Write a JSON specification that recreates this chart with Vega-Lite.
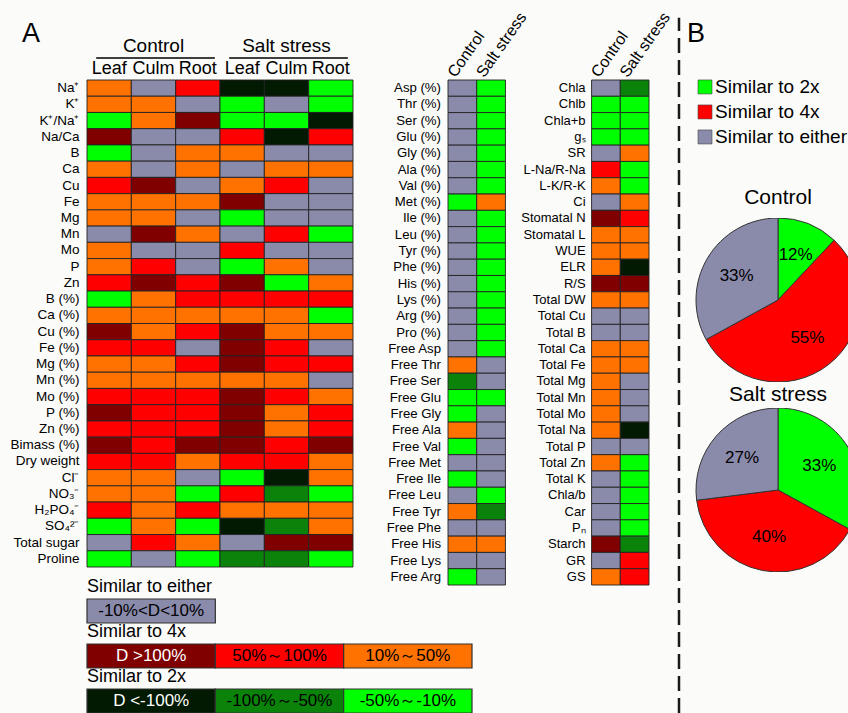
{
"$schema": "https://vega.github.io/schema/vega-lite/v6.json",
"background": "#fbfbf9",
"padding": {"left": 9, "top": 0, "right": 0, "bottom": 0},
"config": {"view": {"stroke": null}, "font": "Liberation Sans", "text": {"color": "black"}},
"datasets": {
"A": [
{"t":"Na⁺","C-Leaf":"R1","C-Culm":"E","C-Root":"R2","S-Leaf":"G3","S-Culm":"G3","S-Root":"G1"},
{"t":"K⁺","C-Leaf":"R1","C-Culm":"R1","C-Root":"E","S-Leaf":"G1","S-Culm":"E","S-Root":"G1"},
{"t":"K⁺/Na⁺","C-Leaf":"G1","C-Culm":"R1","C-Root":"R3","S-Leaf":"G1","S-Culm":"G1","S-Root":"G3"},
{"t":"Na/Ca","C-Leaf":"R3","C-Culm":"E","C-Root":"E","S-Leaf":"R2","S-Culm":"G3","S-Root":"R2"},
{"t":"B","C-Leaf":"G1","C-Culm":"E","C-Root":"R1","S-Leaf":"R1","S-Culm":"E","S-Root":"E"},
{"t":"Ca","C-Leaf":"R1","C-Culm":"E","C-Root":"R1","S-Leaf":"E","S-Culm":"R1","S-Root":"R1"},
{"t":"Cu","C-Leaf":"R2","C-Culm":"R3","C-Root":"E","S-Leaf":"R1","S-Culm":"R2","S-Root":"E"},
{"t":"Fe","C-Leaf":"R1","C-Culm":"R1","C-Root":"R1","S-Leaf":"R3","S-Culm":"E","S-Root":"E"},
{"t":"Mg","C-Leaf":"R1","C-Culm":"R1","C-Root":"E","S-Leaf":"G1","S-Culm":"E","S-Root":"E"},
{"t":"Mn","C-Leaf":"E","C-Culm":"R3","C-Root":"R1","S-Leaf":"E","S-Culm":"R2","S-Root":"G1"},
{"t":"Mo","C-Leaf":"R1","C-Culm":"E","C-Root":"E","S-Leaf":"R2","S-Culm":"E","S-Root":"E"},
{"t":"P","C-Leaf":"R1","C-Culm":"R2","C-Root":"E","S-Leaf":"G1","S-Culm":"R1","S-Root":"E"},
{"t":"Zn","C-Leaf":"R2","C-Culm":"R3","C-Root":"R2","S-Leaf":"R3","S-Culm":"G1","S-Root":"R1"},
{"t":"B (%)","C-Leaf":"G1","C-Culm":"R1","C-Root":"R2","S-Leaf":"R2","S-Culm":"R2","S-Root":"R2"},
{"t":"Ca (%)","C-Leaf":"R1","C-Culm":"R1","C-Root":"R1","S-Leaf":"R1","S-Culm":"R1","S-Root":"G1"},
{"t":"Cu (%)","C-Leaf":"R3","C-Culm":"R1","C-Root":"R2","S-Leaf":"R3","S-Culm":"R1","S-Root":"R1"},
{"t":"Fe (%)","C-Leaf":"R2","C-Culm":"R2","C-Root":"E","S-Leaf":"R3","S-Culm":"R2","S-Root":"E"},
{"t":"Mg (%)","C-Leaf":"R1","C-Culm":"R1","C-Root":"R2","S-Leaf":"R3","S-Culm":"R2","S-Root":"R2"},
{"t":"Mn (%)","C-Leaf":"R1","C-Culm":"R1","C-Root":"R1","S-Leaf":"R1","S-Culm":"R1","S-Root":"E"},
{"t":"Mo (%)","C-Leaf":"R2","C-Culm":"R2","C-Root":"R2","S-Leaf":"R3","S-Culm":"R2","S-Root":"R1"},
{"t":"P (%)","C-Leaf":"R3","C-Culm":"R2","C-Root":"R2","S-Leaf":"R3","S-Culm":"R1","S-Root":"R2"},
{"t":"Zn (%)","C-Leaf":"R2","C-Culm":"R2","C-Root":"R2","S-Leaf":"R3","S-Culm":"R1","S-Root":"R2"},
{"t":"Bimass (%)","C-Leaf":"R3","C-Culm":"R2","C-Root":"R3","S-Leaf":"R3","S-Culm":"R2","S-Root":"R3"},
{"t":"Dry weight","C-Leaf":"R2","C-Culm":"R2","C-Root":"R1","S-Leaf":"R2","S-Culm":"R2","S-Root":"R1"},
{"t":"Cl⁻","C-Leaf":"R1","C-Culm":"R1","C-Root":"E","S-Leaf":"G1","S-Culm":"G3","S-Root":"R1"},
{"t":"NO₃⁻","C-Leaf":"R1","C-Culm":"R1","C-Root":"G1","S-Leaf":"R2","S-Culm":"G2","S-Root":"G1"},
{"t":"H₂PO₄⁻","C-Leaf":"R2","C-Culm":"R1","C-Root":"R2","S-Leaf":"R1","S-Culm":"R1","S-Root":"R1"},
{"t":"SO₄²⁻","C-Leaf":"G1","C-Culm":"R1","C-Root":"G1","S-Leaf":"G3","S-Culm":"G2","S-Root":"R1"},
{"t":"Total sugar","C-Leaf":"E","C-Culm":"R2","C-Root":"R1","S-Leaf":"E","S-Culm":"R3","S-Root":"R3"},
{"t":"Proline","C-Leaf":"G1","C-Culm":"E","C-Root":"G1","S-Leaf":"G2","S-Culm":"G2","S-Root":"G1"}
],
"MR": [
{"r":1,"t":"Asp (%)","M-Control":"E","M-Salt stress":"G1"},
{"r":2,"t":"Thr (%)","M-Control":"E","M-Salt stress":"G1"},
{"r":3,"t":"Ser (%)","M-Control":"E","M-Salt stress":"G1"},
{"r":4,"t":"Glu (%)","M-Control":"E","M-Salt stress":"G1"},
{"r":5,"t":"Gly (%)","M-Control":"E","M-Salt stress":"G1"},
{"r":6,"t":"Ala (%)","M-Control":"E","M-Salt stress":"G1"},
{"r":7,"t":"Val (%)","M-Control":"E","M-Salt stress":"G1"},
{"r":8,"t":"Met (%)","M-Control":"G1","M-Salt stress":"R1"},
{"r":9,"t":"Ile (%)","M-Control":"E","M-Salt stress":"G1"},
{"r":10,"t":"Leu (%)","M-Control":"E","M-Salt stress":"G1"},
{"r":11,"t":"Tyr (%)","M-Control":"E","M-Salt stress":"G1"},
{"r":12,"t":"Phe (%)","M-Control":"E","M-Salt stress":"G1"},
{"r":13,"t":"His (%)","M-Control":"E","M-Salt stress":"G1"},
{"r":14,"t":"Lys (%)","M-Control":"E","M-Salt stress":"G1"},
{"r":15,"t":"Arg (%)","M-Control":"E","M-Salt stress":"G1"},
{"r":16,"t":"Pro (%)","M-Control":"E","M-Salt stress":"G1"},
{"r":17,"t":"Free Asp","M-Control":"E","M-Salt stress":"G1"},
{"r":18,"t":"Free Thr","M-Control":"R1","M-Salt stress":"E"},
{"r":19,"t":"Free Ser","M-Control":"G2","M-Salt stress":"E"},
{"r":20,"t":"Free Glu","M-Control":"G1","M-Salt stress":"G1"},
{"r":21,"t":"Free Gly","M-Control":"G1","M-Salt stress":"E"},
{"r":22,"t":"Free Ala","M-Control":"R1","M-Salt stress":"E"},
{"r":23,"t":"Free Val","M-Control":"G1","M-Salt stress":"E"},
{"r":24,"t":"Free Met","M-Control":"E","M-Salt stress":"E"},
{"r":25,"t":"Free Ile","M-Control":"G1","M-Salt stress":"E"},
{"r":26,"t":"Free Leu","M-Control":"E","M-Salt stress":"G1"},
{"r":27,"t":"Free Tyr","M-Control":"R1","M-Salt stress":"G2"},
{"r":28,"t":"Free Phe","M-Control":"E","M-Salt stress":"E"},
{"r":29,"t":"Free His","M-Control":"R1","M-Salt stress":"R1"},
{"r":30,"t":"Free Lys","M-Control":"E","M-Salt stress":"E"},
{"r":31,"t":"Free Arg","M-Control":"G1","M-Salt stress":"E"},
{"r":1,"t":"Chla","R-Control":"E","R-Salt stress":"G2"},
{"r":2,"t":"Chlb","R-Control":"G1","R-Salt stress":"G1"},
{"r":3,"t":"Chla+b","R-Control":"G1","R-Salt stress":"G1"},
{"r":4,"t":"gₛ","R-Control":"G1","R-Salt stress":"G1"},
{"r":5,"t":"SR","R-Control":"E","R-Salt stress":"R1"},
{"r":6,"t":"L-Na/R-Na","R-Control":"R2","R-Salt stress":"G1"},
{"r":7,"t":"L-K/R-K","R-Control":"R1","R-Salt stress":"G1"},
{"r":8,"t":"Ci","R-Control":"E","R-Salt stress":"R1"},
{"r":9,"t":"Stomatal N","R-Control":"R3","R-Salt stress":"R2"},
{"r":10,"t":"Stomatal L","R-Control":"R1","R-Salt stress":"R1"},
{"r":11,"t":"WUE","R-Control":"R1","R-Salt stress":"R1"},
{"r":12,"t":"ELR","R-Control":"R1","R-Salt stress":"G3"},
{"r":13,"t":"R/S","R-Control":"R3","R-Salt stress":"R3"},
{"r":14,"t":"Total DW","R-Control":"R1","R-Salt stress":"R1"},
{"r":15,"t":"Total Cu","R-Control":"E","R-Salt stress":"E"},
{"r":16,"t":"Total B","R-Control":"E","R-Salt stress":"E"},
{"r":17,"t":"Total Ca","R-Control":"R1","R-Salt stress":"R1"},
{"r":18,"t":"Total Fe","R-Control":"R1","R-Salt stress":"R1"},
{"r":19,"t":"Total Mg","R-Control":"R1","R-Salt stress":"E"},
{"r":20,"t":"Total Mn","R-Control":"R1","R-Salt stress":"E"},
{"r":21,"t":"Total Mo","R-Control":"R1","R-Salt stress":"E"},
{"r":22,"t":"Total Na","R-Control":"R1","R-Salt stress":"G3"},
{"r":23,"t":"Total P","R-Control":"E","R-Salt stress":"E"},
{"r":24,"t":"Total Zn","R-Control":"R1","R-Salt stress":"G1"},
{"r":25,"t":"Total K","R-Control":"E","R-Salt stress":"G1"},
{"r":26,"t":"Chla/b","R-Control":"E","R-Salt stress":"G1"},
{"r":27,"t":"Car","R-Control":"E","R-Salt stress":"G1"},
{"r":28,"t":"Pₙ","R-Control":"E","R-Salt stress":"G1"},
{"r":29,"t":"Starch","R-Control":"R3","R-Salt stress":"G2"},
{"r":30,"t":"GR","R-Control":"E","R-Salt stress":"R2"},
{"r":31,"t":"GS","R-Control":"R1","R-Salt stress":"R2"}
]
},
"spacing": 0,
"hconcat": [
{
"spacing": 578,
"bounds": "flush",
"vconcat": [
{"spacing": 0, "hconcat": [
{"spacing": 0, "bounds": "flush", "vconcat": [
{"width": 266, "height": 80,
 "layer": [
  {"data": {"values": [{"t": "A"}]},
   "mark": {"type": "text", "fontSize": 27, "baseline": "middle", "align": "center", "xOffset": -189},
   "encoding": {"text": {"field": "t"}, "y": {"datum": 0.575, "type": "quantitative", "scale": {"domain": [0, 1]}, "axis": null}}},
  {"data": {"values": [{"g": "Control", "m": "C-Culm", "a": "C-Leaf", "b": "C-Root"}, {"g": "Salt stress", "m": "S-Culm", "a": "S-Leaf", "b": "S-Root"}]},
   "layer": [
    {"mark": {"type": "text", "fontSize": 19, "baseline": "middle"},
     "encoding": {"x": {"field": "m", "type": "nominal", "scale": {"domain": ["C-Leaf","C-Culm","C-Root","S-Leaf","S-Culm","S-Root"], "padding": 0}, "axis": null},
                  "y": {"datum": 0.425, "type": "quantitative", "scale": {"domain": [0, 1]}},
                  "text": {"field": "g"}}},
    {"mark": {"type": "rule", "strokeWidth": 1.5, "color": "black", "xOffset": -13, "x2Offset": 17},
     "encoding": {"x": {"field": "a", "type": "nominal", "scale": {"domain": ["C-Leaf","C-Culm","C-Root","S-Leaf","S-Culm","S-Root"], "padding": 0}},
                  "x2": {"field": "b"},
                  "y": {"datum": 0.275, "type": "quantitative", "scale": {"domain": [0, 1]}}}}
   ]}
 ]},
{"width": 266, "height": 487,
 "data": {"name": "A"},
 "transform": [{"fold": ["C-Leaf","C-Culm","C-Root","S-Leaf","S-Culm","S-Root"], "as": ["col", "k"]}],
 "mark": {"type": "rect", "stroke": "#222", "strokeWidth": 0.9},
 "encoding": {
  "x": {"field": "col", "type": "nominal", "scale": {"domain": ["C-Leaf","C-Culm","C-Root","S-Leaf","S-Culm","S-Root"], "padding": 0},
        "axis": {"orient": "top", "labelExpr": "substring(datum.label, 2)", "labelFontSize": 18, "labelAngle": 0, "ticks": false, "domain": false, "labelPadding": 3, "title": null, "labelColor": "black", "labelOverlap": false}},
  "y": {"field": "t", "type": "nominal", "sort": null, "scale": {"padding": 0},
        "axis": {"ticks": false, "domain": false, "labelPadding": 8, "labelFontSize": 13.5, "title": null, "labelColor": "black", "labelOverlap": false}},
  "color": {"field": "k", "type": "nominal", "scale": {"domain": ["E","R3","R2","R1","G3","G2","G1"], "range": ["#8a8aab","#800000","#ff0000","#ff7200","#021902","#0b830b","#00ff00"]}, "legend": null}
 }}
]},
{"width": 32, "height": 1, "data": {"values": []}, "mark": "rect", "encoding": {}},
{"spacing": 0, "bounds": "flush", "vconcat": [
{"width": 229, "height": 80, "data": {"values": []}, "mark": "rect", "encoding": {}},
{"width": 201, "height": 505,
 "data": {"name": "MR"},
 "transform": [{"fold": ["M-Control","M-Salt stress","R-Control","R-Salt stress"], "as": ["col", "k"]}, {"filter": "isValid(datum.k)"}],
 "encoding": {"y": {"field": "r", "type": "ordinal", "scale": {"padding": 0}, "axis": null}},
 "layer": [
  {"mark": {"type": "rect", "stroke": "#222", "strokeWidth": 0.9},
   "encoding": {
    "x": {"field": "col", "type": "nominal", "scale": {"domain": ["M-Control","M-Salt stress","g1","g2","g3","R-Control","R-Salt stress"], "padding": 0},
          "axis": {"orient": "top", "labelExpr": "indexof(datum.label, '-') < 0 ? '' : substring(datum.label, 2)", "labelAngle": -55, "labelAlign": "left", "labelBaseline": "middle", "labelOffset": -11, "labelFontSize": 16, "ticks": false, "domain": false, "labelPadding": 5, "title": null, "labelColor": "black", "labelOverlap": false}},
    "color": {"field": "k", "type": "nominal", "scale": {"domain": ["E","R3","R2","R1","G3","G2","G1"], "range": ["#8a8aab","#800000","#ff0000","#ff7200","#021902","#0b830b","#00ff00"]}, "legend": null}
   }},
  {"transform": [{"filter": "datum.col === 'M-Control'"}],
   "mark": {"type": "text", "align": "right", "baseline": "middle", "dx": -7, "fontSize": 13.2},
   "encoding": {"x": {"field": "col", "type": "nominal", "bandPosition": 0}, "text": {"field": "t"}}},
  {"transform": [{"filter": "datum.col === 'R-Control'"}],
   "mark": {"type": "text", "align": "right", "baseline": "middle", "dx": -6, "fontSize": 13},
   "encoding": {"x": {"field": "col", "type": "nominal", "bandPosition": 0}, "text": {"field": "t"}}}
 ]}
]}
]},
{"width": 385, "height": 135,
 "data": {"values": [
  {"g": "Similar to either", "s": "a", "k": "E", "lab": "-10%<D<10%"},
  {"g": "Similar to 4x", "s": "a", "k": "R3", "lab": "D >100%"},
  {"g": "Similar to 4x", "s": "b", "k": "R2", "lab": "50%～100%"},
  {"g": "Similar to 4x", "s": "c", "k": "R1", "lab": "10%～50%"},
  {"g": "Similar to 2x", "s": "a", "k": "G3", "lab": "D <-100%"},
  {"g": "Similar to 2x", "s": "b", "k": "G2", "lab": "-100%～-50%"},
  {"g": "Similar to 2x", "s": "c", "k": "G1", "lab": "-50%～-10%"}
 ]},
 "encoding": {"y": {"field": "g", "type": "nominal", "sort": null, "scale": {"paddingInner": 0.4667, "paddingOuter": 0.2333, "align": 1}, "axis": null}},
 "layer": [
  {"mark": {"type": "rect", "stroke": "#333", "strokeWidth": 1.2},
   "encoding": {"x": {"field": "s", "type": "nominal", "scale": {"domain": ["a","b","c"], "padding": 0}, "axis": null},
                "color": {"field": "k", "type": "nominal", "scale": {"domain": ["E","R3","R2","R1","G3","G2","G1"], "range": ["#8a8aab","#800000","#ff0000","#ff7200","#021902","#0b830b","#00ff00"]}, "legend": null}}},
  {"mark": {"type": "text", "fontSize": 17, "baseline": "middle"},
   "encoding": {"x": {"field": "s", "type": "nominal"}, "text": {"field": "lab"},
                "color": {"condition": {"test": "datum.k === 'R3' || datum.k === 'G3'", "value": "white"}, "value": "black"}}},
  {"transform": [{"filter": "datum.s === 'a'"}],
   "mark": {"type": "text", "fontSize": 18, "align": "left", "baseline": "bottom", "dy": -3},
   "encoding": {"x": {"field": "s", "type": "nominal", "bandPosition": 0}, "y": {"field": "g", "type": "nominal", "sort": null, "bandPosition": 0}, "text": {"field": "g"}}}
 ]}
]
},
{"width": 10, "height": 713, "data": {"values": [{}]},
 "mark": {"type": "rule", "strokeDash": [15, 7], "strokeWidth": 2.5, "color": "#1a1a1a"},
 "encoding": {"x": {"datum": 0.2, "type": "quantitative", "scale": {"domain": [0, 1]}, "axis": null},
              "y": {"datum": 0, "type": "quantitative", "scale": {"domain": [0, 1]}, "axis": null},
              "y2": {"datum": 0.975}}},
{"spacing": 26, "bounds": "flush", "vconcat": [
{"width": 164, "height": 192,
 "data": {"values": [{"cls": "Similar to 2x"}, {"cls": "Similar to 4x"}, {"cls": "Similar to either"}]},
 "layer": [
  {"mark": {"type": "point", "shape": "square", "size": 196, "filled": true, "opacity": 1, "stroke": "#444", "strokeWidth": 0.6, "xOffset": -66},
   "encoding": {"y": {"field": "cls", "type": "nominal", "scale": {"type": "point", "domain": ["p1", "p2", "Similar to 2x", "Similar to 4x", "Similar to either", "p3", "p4"], "padding": 0.84, "align": 0.88}, "axis": null},
                "fill": {"field": "cls", "type": "nominal", "scale": {"domain": ["Similar to 2x","Similar to 4x","Similar to either"], "range": ["#00ff00","#ff0000","#8a8aab"]}, "legend": null}}},
  {"mark": {"type": "text", "align": "left", "baseline": "middle", "fontSize": 19, "xOffset": -56},
   "encoding": {"y": {"field": "cls", "type": "nominal"}, "text": {"field": "cls"}}},
  {"data": {"values": [{"t": "B"}]},
   "mark": {"type": "text", "align": "left", "baseline": "middle", "fontSize": 27, "xOffset": -84, "yOffset": -62},
   "encoding": {"text": {"field": "t"}}}
 ]},
{"width": 164, "height": 164,
 "title": {"text": "Control", "fontSize": 21, "fontWeight": "normal", "offset": 10, "anchor": "middle", "dx": 7, "color": "black"},
 "data": {"values": [{"cls": "Similar to 2x", "pct": 0.12}, {"cls": "Similar to 4x", "pct": 0.55}, {"cls": "Similar to either", "pct": 0.33}]},
 "encoding": {"theta": {"field": "pct", "type": "quantitative", "stack": true}, "order": {"field": "cls", "type": "nominal", "sort": "ascending"}},
 "layer": [
  {"mark": {"type": "arc", "outerRadius": 82, "stroke": "#333", "strokeWidth": 1, "clip": true, "xOffset": 7},
   "encoding": {"fill": {"field": "cls", "type": "nominal", "scale": {"domain": ["Similar to 2x","Similar to 4x","Similar to either"], "range": ["#00ff00","#ff0000","#8a8aab"]}, "legend": null}}},
  {"mark": {"type": "text", "radius": 48, "fontSize": 17, "clip": true, "xOffset": 7},
   "encoding": {"text": {"field": "pct", "type": "quantitative", "format": ".0%"}}}
 ]},
{"width": 164, "height": 164,
 "title": {"text": "Salt stress", "fontSize": 21, "fontWeight": "normal", "offset": 3, "anchor": "middle", "dx": 7, "color": "black"},
 "data": {"values": [{"cls": "Similar to 2x", "pct": 0.33}, {"cls": "Similar to 4x", "pct": 0.40}, {"cls": "Similar to either", "pct": 0.27}]},
 "encoding": {"theta": {"field": "pct", "type": "quantitative", "stack": true}, "order": {"field": "cls", "type": "nominal", "sort": "ascending"}},
 "layer": [
  {"mark": {"type": "arc", "outerRadius": 82, "stroke": "#333", "strokeWidth": 1, "clip": true, "xOffset": 7},
   "encoding": {"fill": {"field": "cls", "type": "nominal", "scale": {"domain": ["Similar to 2x","Similar to 4x","Similar to either"], "range": ["#00ff00","#ff0000","#8a8aab"]}, "legend": null}}},
  {"mark": {"type": "text", "radius": 48, "fontSize": 17, "clip": true, "xOffset": 7},
   "encoding": {"text": {"field": "pct", "type": "quantitative", "format": ".0%"}}}
 ]}
]}
]
}
